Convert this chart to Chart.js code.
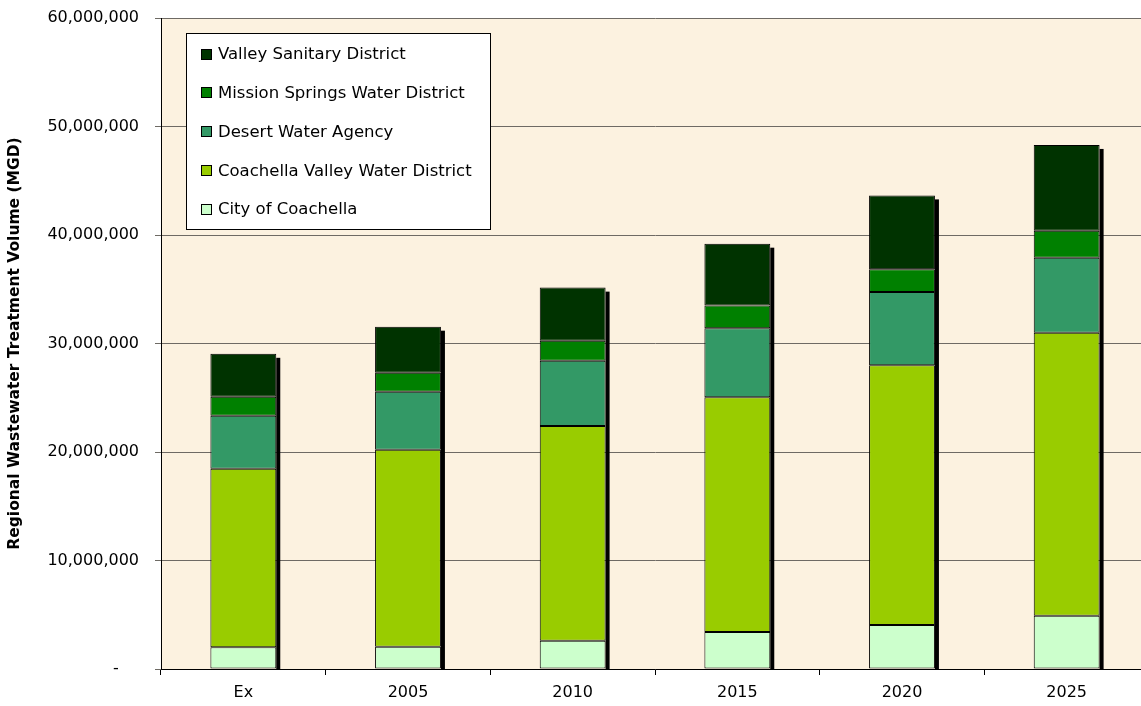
<!DOCTYPE html>
<html>
<head>
<meta charset="utf-8">
<script src="https://cdn.jsdelivr.net/npm/chart.js@4/dist/chart.umd.min.js"></script>
<style>
  html, body { margin: 0; padding: 0; background: #fff; overflow: hidden; width: 1141px; height: 706px; }
  #wrap { position: relative; width: 1150px; height: 706px; }
</style>
</head>
<body>
<div id="wrap"><canvas id="c" width="1150" height="706"></canvas></div>
<script>
const categories = ['Ex', '2005', '2010', '2015', '2020', '2025'];
const cityOfCoachella = [2000000, 2050000, 2600000, 3400000, 4050000, 4900000];
const coachellaValleyWD = [16450000, 18150000, 19800000, 21650000, 23950000, 26100000];
const desertWaterAgency = [4900000, 5350000, 6000000, 6350000, 6750000, 6900000];
const missionSpringsWD = [1750000, 1750000, 1850000, 2100000, 2100000, 2500000];
const valleySanitary = [3950000, 4250000, 4900000, 5700000, 6800000, 7900000];
const yTicks = [0, 10000000, 20000000, 30000000, 40000000, 50000000, 60000000];

const FONT = 'DejaVu Sans';

const bgPlugin = {
  id: 'bg',
  beforeDraw(chart) {
    const { ctx, chartArea: a } = chart;
    ctx.save();
    ctx.fillStyle = '#fcf2e0';
    ctx.fillRect(a.left, a.top, a.right - a.left, a.bottom - a.top);
    ctx.restore();
  }
};

const shadowPlugin = {
  id: 'barShadow',
  beforeDatasetsDraw(chart) {
    const { ctx } = chart;
    const base = chart.scales.y.getPixelForValue(0);
    ctx.save();
    ctx.fillStyle = '#000';
    categories.forEach((_, i) => {
      let top = Infinity, right = 0;
      chart.data.datasets.forEach((ds, d) => {
        const el = chart.getDatasetMeta(d).data[i];
        if (!el) return;
        top = Math.min(top, el.y);
        right = el.x + el.width / 2;
      });
      ctx.fillRect(right, top + 4, 4, base - top - 4);
    });
    ctx.restore();
  }
};

const legendPlugin = {
  id: 'boxLegend',
  afterDatasetsDraw(chart) {
    const { ctx } = chart;
    const x = 186, y = 33, w = 304, h = 196;
    ctx.save();
    ctx.fillStyle = '#fff';
    ctx.fillRect(x, y, w, h);
    ctx.strokeStyle = '#000';
    ctx.lineWidth = 1;
    ctx.strokeRect(x + 0.5, y + 0.5, w, h);
    const items = chart.data.datasets.slice().reverse();
    ctx.font = '16.5px "' + FONT + '"';
    ctx.textBaseline = 'middle';
    items.forEach((ds, k) => {
      const cy = 54 + k * 38.8;
      ctx.fillStyle = ds.backgroundColor;
      ctx.fillRect(201, Math.round(cy - 5.5), 11, 11);
      ctx.strokeStyle = '#000';
      ctx.strokeRect(201.5, Math.round(cy - 5.5) + 0.5, 10, 10);
      ctx.fillStyle = '#000';
      ctx.fillText(ds.label, 218, cy + 1);
    });
    ctx.restore();
  }
};

function ds(label, data, color) {
  return {
    label, data, backgroundColor: color,
    borderColor: '#000', borderWidth: 1, borderSkipped: false,
    barPercentage: 0.4, categoryPercentage: 1.0
  };
}

new Chart(document.getElementById('c'), {
  type: 'bar',
  data: {
    labels: categories,
    datasets: [
      ds('City of Coachella', cityOfCoachella, '#ccffcc'),
      ds('Coachella Valley Water District', coachellaValleyWD, '#99cc00'),
      ds('Desert Water Agency', desertWaterAgency, '#339966'),
      ds('Mission Springs Water District', missionSpringsWD, '#008000'),
      ds('Valley Sanitary District', valleySanitary, '#003300')
    ]
  },
  options: {
    responsive: false,
    animation: false,
    layout: { padding: { top: 18, right: 1, left: 0, bottom: 0 } },
    plugins: { legend: { display: false }, tooltip: { enabled: false } },
    scales: {
      x: {
        stacked: true,
        afterFit(s) { s.height = 37; },
        grid: { display: true, offset: true, drawOnChartArea: false, drawTicks: true, tickLength: 6, color: '#000' },
        border: { color: '#000', width: 1 },
        ticks: { color: '#000', font: { family: FONT, size: 16 }, padding: 8, maxRotation: 0 }
      },
      y: {
        stacked: true,
        min: 0, max: 60000000,
        afterFit(s) { s.width = 161; s.paddingTop = 0; s.paddingBottom = 0; },
        afterBuildTicks(s) { s.ticks = yTicks.map(v => ({ value: v })); },
        grid: { color: '#6e6a64', tickLength: 6, drawTicks: true },
        border: { color: '#000', width: 1 },
        ticks: {
          color: '#000', font: { family: FONT, size: 16 }, padding: 16,
          callback: v => v === 0 ? '-    ' : v.toLocaleString('en-US')
        },
        title: {
          display: true,
          text: 'Regional Wastewater Treatment Volume (MGD)',
          color: '#000',
          font: { family: FONT, size: 15.5, weight: 'bold' },
          padding: { top: 6, bottom: 0 }
        }
      }
    }
  },
  plugins: [bgPlugin, shadowPlugin, legendPlugin]
});
</script>
</body>
</html>
